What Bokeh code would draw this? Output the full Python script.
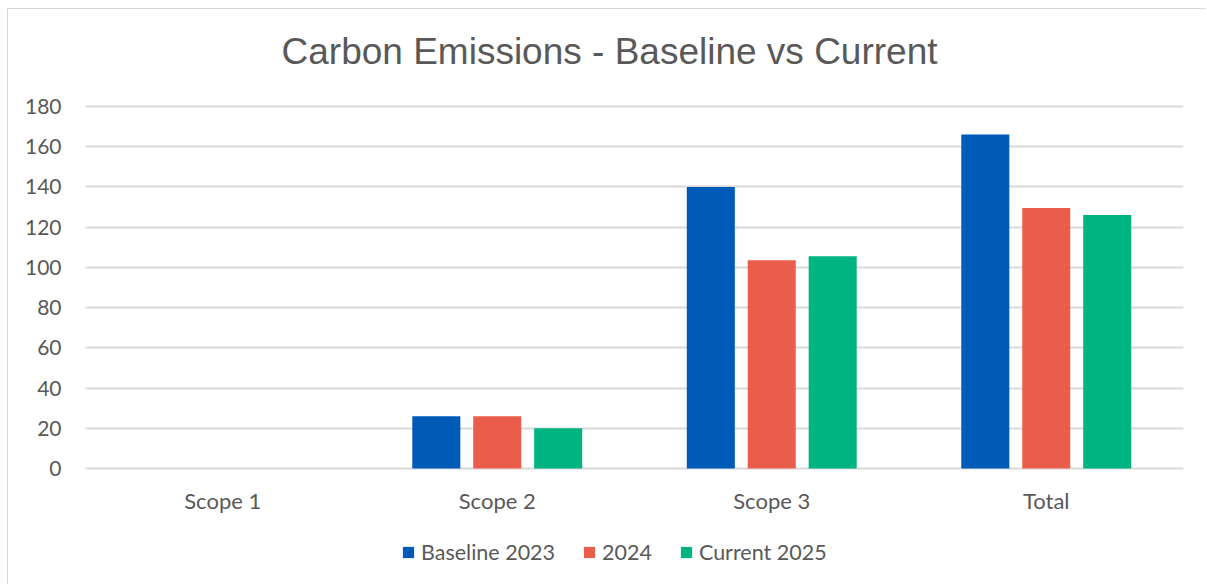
from bokeh.plotting import figure
from bokeh.models import FactorRange, Range1d, Legend, LegendItem, ColumnDataSource
from bokeh.core.properties import value
from bokeh.transform import dodge
from bokeh.embed import file_html
from bokeh.resources import INLINE

title_text = "Carbon Emissions - Baseline vs Current"
categories = ["Scope 1", "Scope 2", "Scope 3", "Total"]
series_names = ["Baseline 2023", "2024", "Current 2025"]
baseline_2023 = [0, 26, 140, 166]
year_2024 = [0, 26, 103.5, 129.5]
current_2025 = [0, 20, 105.5, 126]
y_ticks = [0, 20, 40, 60, 80, 100, 120, 140, 160, 180]

colors = ["#005AB8", "#EB5D4B", "#00B482"]
text_color = "#595959"
grid_color = "#D9D9D9"

source = ColumnDataSource(dict(cat=categories, b=baseline_2023, y24=year_2024, c=current_2025))

# frame extended above and below the value axis to host title, labels and legend
p = figure(
    x_range=FactorRange(*categories, range_padding=0),
    y_range=Range1d(-53.2, 227.7),
    width=1199, height=576,
    output_backend="svg", toolbar_location=None,
    min_border_left=77, min_border_right=24, min_border_top=1, min_border_bottom=10,
)
p.styles = {"border-top": "1px solid #D9D9D9", "border-left": "1px solid #D9D9D9",
            "margin-left": "7px", "margin-top": "8px"}

cols = ["b", "y24", "c"]
offsets = [-0.222, 0.0, 0.222]
renderers = []
for col, off, colr in zip(cols, offsets, colors):
    r = p.vbar(x=dodge("cat", off, range=p.x_range), top=col, width=0.175, source=source,
               fill_color=colr, line_color=None)
    renderers.append(r)

# title
p.text(x=[1.909], y=[207.2], text=[title_text], text_align="center", text_baseline="middle",
       text_font=value("Liberation Sans"), text_font_size="37px", text_color=text_color)

# category labels drawn below the zero line
lab_src = ColumnDataSource(dict(cat=categories, y=[-16] * len(categories)))
p.text(x="cat", y="y", text="cat", source=lab_src, text_align="center", text_baseline="middle",
       text_font=value("Lato"), text_font_size="22px", text_color=text_color)

legend = Legend(items=[LegendItem(label=n, renderers=[r]) for n, r in zip(series_names, renderers)],
                orientation="horizontal", location=(316, 10))
legend.label_text_font = "Lato"
legend.label_text_font_size = "21.5px"
legend.label_text_color = text_color
legend.glyph_width = 14
legend.glyph_height = 14
legend.label_height = 20
legend.spacing = 27
legend.label_standoff = 6
legend.border_line_color = None
legend.background_fill_alpha = 0
legend.padding = 0
legend.margin = 0
p.add_layout(legend)

p.xaxis.visible = False
p.yaxis.ticker = y_ticks
p.yaxis.axis_line_color = None
p.yaxis.major_tick_line_color = None
p.yaxis.minor_tick_line_color = None
p.yaxis.major_label_text_font = "Lato"
p.yaxis.major_label_text_font_size = "21px"
p.yaxis.major_label_text_color = text_color
p.yaxis.major_label_standoff = 18

p.xgrid.grid_line_color = None
p.ygrid.grid_line_color = grid_color
p.ygrid.grid_line_width = 2
p.outline_line_color = None

open("out.html", "w").write(file_html(p, INLINE))
